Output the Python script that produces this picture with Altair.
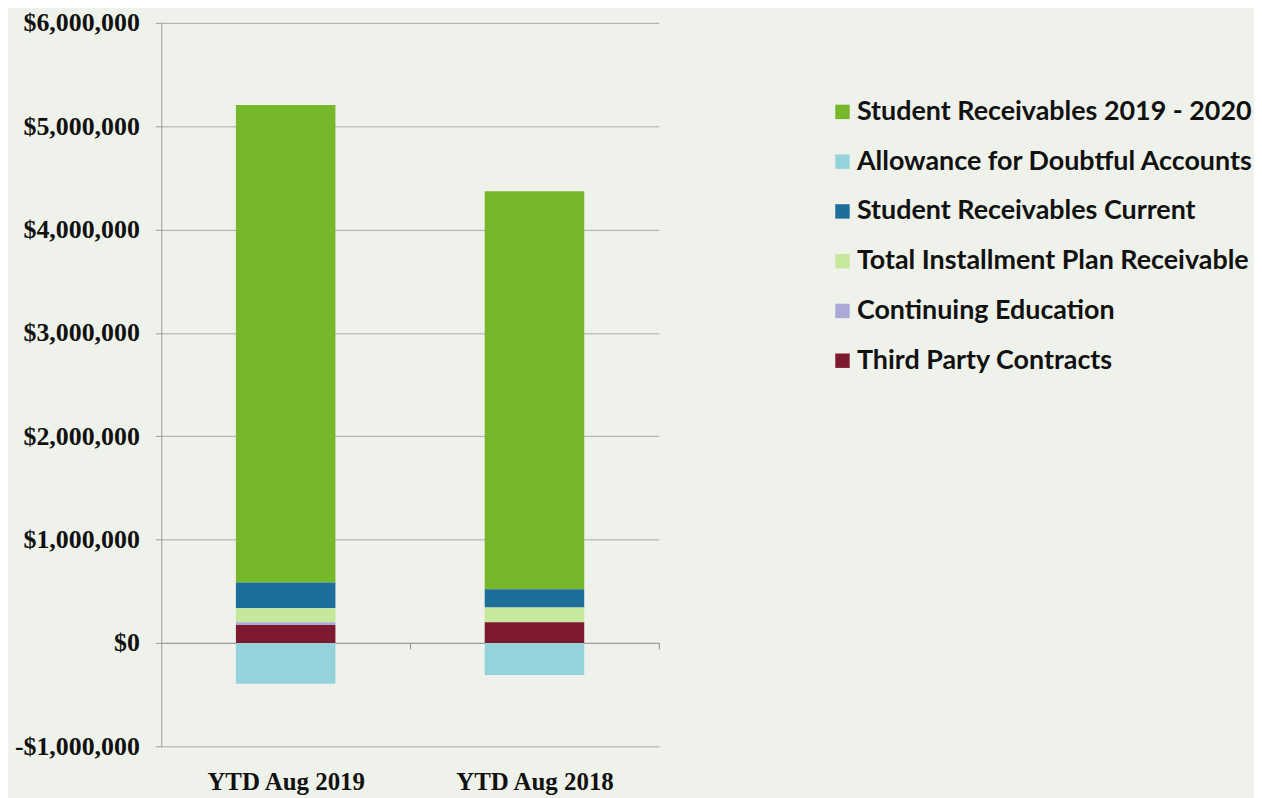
import altair as alt
import pandas as pd

periods = ["YTD Aug 2019", "YTD Aug 2018"]
series = [
    "Student Receivables 2019 - 2020",
    "Allowance for Doubtful Accounts",
    "Student Receivables Current",
    "Total Installment Plan Receivable",
    "Continuing Education",
    "Third Party Contracts",
]
colors = ["#77B82A", "#95D3DC", "#1E6E9B", "#C6E89D", "#ABA9D8", "#7E1A30"]
# stacking order from the zero line outward
stack_rank = [4, 5, 3, 2, 1, 0]

values_2019 = [4620000, -395000, 250000, 135000, 25000, 175000]
values_2018 = [3850000, -310000, 177000, 140000, 3000, 200000]

rows = []
for p, vals in zip(periods, [values_2019, values_2018]):
    for s, v, r in zip(series, vals, stack_rank):
        rows.append({"period": p, "series": s, "value": v, "rank": r})
df = pd.DataFrame(rows)

bars = alt.Chart(df).mark_bar(size=100).encode(
    x=alt.X(
        "period:N",
        sort=periods,
        title=None,
        scale=alt.Scale(paddingInner=0.6, paddingOuter=0.3),
        axis=alt.Axis(
            labelAngle=0,
            labelFont="Liberation Serif",
            labelFontWeight="bold",
            labelFontSize=25,
            labelColor="#111111",
            offset=-104,
            labelPadding=121,
            tickOffset=125,
            labelOffset=-125,
            ticks=True,
            tickSize=6,
            tickWidth=1,
            tickColor="#8a8a8a",
            domain=True,
            domainColor="#9a9a9a",
            grid=False,
        ),
    ),
    y=alt.Y(
        "value:Q",
        stack="zero",
        title=None,
        scale=alt.Scale(domain=[-1000000, 6000000], nice=False),
        axis=alt.Axis(
            values=[-1000000, 0, 1000000, 2000000, 3000000, 4000000, 5000000, 6000000],
            labelExpr="(datum.value < 0 ? '-' : '') + '$' + format(abs(datum.value), ',.0f')",
            labelFont="Liberation Serif",
            labelFontWeight="bold",
            labelFontSize=26,
            labelColor="#111111",
            labelPadding=16,
            tickSize=6,
            tickColor="#9a9a9a",
            domainColor="#9a9a9a",
            gridColor="#a8a8a8",
            gridWidth=1,
        ),
    ),
    color=alt.Color(
        "series:N",
        scale=alt.Scale(domain=series, range=colors),
        legend=alt.Legend(
            title=None,
            orient="none",
            legendX=671,
            legendY=76,
            symbolType="square",
            symbolSize=210,
            symbolStrokeWidth=0,
            labelFont="Lato",
            labelFontWeight="bold",
            labelFontSize=27,
            labelColor="#111111",
            rowPadding=22,
            labelLimit=600,
            labelOffset=1,
        ),
    ),
    order=alt.Order("rank:Q"),
)

chart = bars.properties(
    width=500,
    height=727,
    background="#EEF2EA",
    padding={"left": 6, "top": 0, "right": 0, "bottom": 5},
).configure_view(stroke=None)

chart.save("out.html", embed_options={"renderer": "svg", "actions": False})
